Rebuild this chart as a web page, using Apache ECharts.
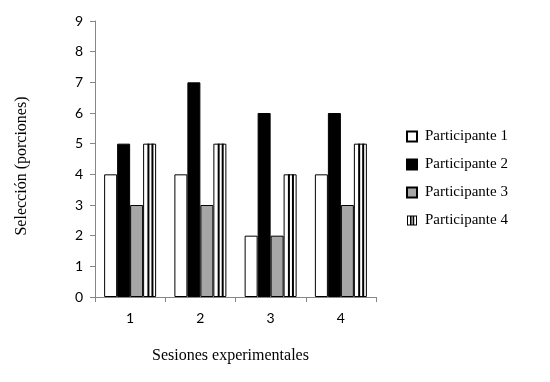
<!DOCTYPE html>
<html>
<head>
<meta charset="utf-8">
<script src="https://cdn.jsdelivr.net/npm/echarts@6/dist/echarts.min.js"></script>
<style>html,body{margin:0;padding:0;background:#fff}#c{width:550px;height:382px}</style>
</head>
<body>
<div id="c"></div>
<script>
var categories = ['1', '2', '3', '4'];
var seriesNames = ['Participante 1', 'Participante 2', 'Participante 3', 'Participante 4'];
var p1 = [4, 4, 2, 4];
var p2 = [5, 7, 6, 6];
var p3 = [3, 3, 2, 3];
var p4 = [5, 5, 4, 5];
var yTicks = [0, 9, 1];

var CAT_GAP = 0.26;
var chart = echarts.init(document.getElementById('c'), null, {renderer: 'canvas'});
var serif = '"Liberation Serif", "Times New Roman", serif';
var sans = 'Lato, "Open Sans", sans-serif';

function bar(name, data, color) {
  return {
    name: name, type: 'bar', data: data,
    barGap: '0%', barCategoryGap: (CAT_GAP * 100) + '%',
    itemStyle: {color: color, borderColor: '#000', borderWidth: 1},
    emphasis: {disabled: true}
  };
}

var stripeData = p4.map(function (v, i) { return [i, v]; });

var option = {
  animation: false,
  backgroundColor: '#fff',
  grid: {left: 95, top: 21, right: 174, bottom: 85},
  legend: {
    orient: 'vertical', left: 401, top: 124,
    itemWidth: 10, itemHeight: 10, itemGap: 13,
    textStyle: {fontFamily: serif, fontSize: 15, color: '#000', padding: [0, 0, 0, 3]},
    data: [
      {name: seriesNames[0], icon: 'rect'},
      {name: seriesNames[1], icon: 'rect'},
      {name: seriesNames[2], icon: 'rect'},
      {name: seriesNames[3], icon: 'path://M0,0H10V10H0Z M1,1V9H9V1Z M3,1H4.6V9H3Z M5.6,1H7.2V9H5.6Z',
        itemStyle: {color: '#000', borderWidth: 0}}
    ],
    selectedMode: false
  },
  xAxis: {
    type: 'category', data: categories,
    name: 'Sesiones experimentales', nameLocation: 'middle', nameGap: 51,
    nameTextStyle: {fontFamily: serif, fontSize: 16, color: '#000', padding: [0, 10, 0, 0]},
    axisLine: {lineStyle: {color: '#868686', width: 1}},
    axisTick: {show: true, length: 5, lineStyle: {color: '#868686'}},
    axisLabel: {fontFamily: sans, fontSize: 14, color: '#000', margin: 14},
    splitLine: {show: false}
  },
  yAxis: {
    type: 'value', min: yTicks[0], max: yTicks[1], interval: yTicks[2],
    name: 'Selección (porciones)', nameLocation: 'middle', nameGap: 65,
    nameTextStyle: {fontFamily: serif, fontSize: 16, color: '#000', padding: [0, 14, 0, 0]},
    axisLine: {show: true, lineStyle: {color: '#868686', width: 1}},
    axisTick: {show: true, length: 5, lineStyle: {color: '#868686'}},
    axisLabel: {fontFamily: sans, fontSize: 14, color: '#000', margin: 12},
    splitLine: {show: false}
  },
  series: [
    bar(seriesNames[0], p1, '#ffffff'),
    bar(seriesNames[1], p2, '#000000'),
    bar(seriesNames[2], p3, '#a6a6a6'),
    bar(seriesNames[3], p4, '#ffffff'),
    {
      name: 'stripes', type: 'custom', data: stripeData, z: 10,
      encode: {x: 0, y: 1}, silent: true,
      renderItem: function (params, api) {
        var idx = api.value(0), val = api.value(1);
        var band = api.size([1, 0])[0];
        var bw = band * (1 - CAT_GAP) / 4;
        var base = api.coord([idx, 0]);
        var top = api.coord([idx, val]);
        var x0 = base[0] - 2 * bw + 3 * bw;
        var children = [0.33, 0.64].map(function (f) {
          return {type: 'rect', shape: {x: x0 + bw * f, y: top[1], width: 2, height: base[1] - top[1]},
            style: {fill: '#000'}};
        });
        return {type: 'group', children: children};
      }
    }
  ]
};
chart.setOption(option);
</script>
</body>
</html>
